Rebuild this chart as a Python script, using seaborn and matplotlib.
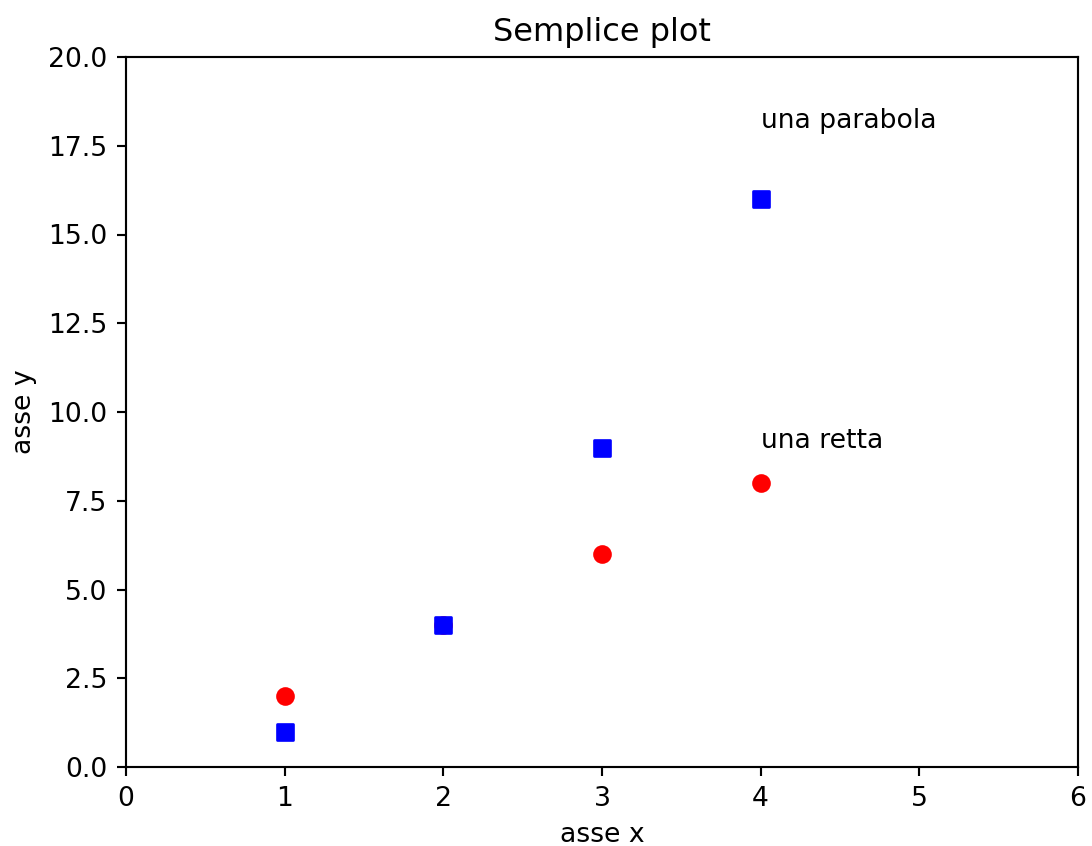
import matplotlib
matplotlib.use("Agg")
import matplotlib.pyplot as plt
import seaborn as sns

x = [1, 2, 3, 4]
retta = [2, 4, 6, 8]
parabola = [1, 4, 9, 16]

dpi = 192
fig = plt.figure(figsize=(1092 / dpi, 846 / dpi), dpi=dpi)
W, H = 1092, 846
ax = fig.add_axes([126 / W, (H - 767) / H, (1078 - 126) / W, (767 - 57) / H])

sns.scatterplot(x=x, y=retta, ax=ax, marker="o", color="red", edgecolor="red",
                s=36, linewidth=1, zorder=3)
sns.scatterplot(x=x, y=parabola, ax=ax, marker="s", color="blue", edgecolor="blue",
                s=36, linewidth=1, zorder=3)

ax.set_xlim(0, 6)
ax.set_ylim(0, 20)
ax.set_xticks([0, 1, 2, 3, 4, 5, 6])
ax.set_yticks([0, 2.5, 5, 7.5, 10, 12.5, 15, 17.5, 20])
ax.set_xlabel("asse x")
ax.set_ylabel("asse y")
ax.set_title("Semplice plot")
ax.text(4, 18, "una parabola")
ax.text(4, 9, "una retta")

fig.savefig("out.png", dpi=dpi)
